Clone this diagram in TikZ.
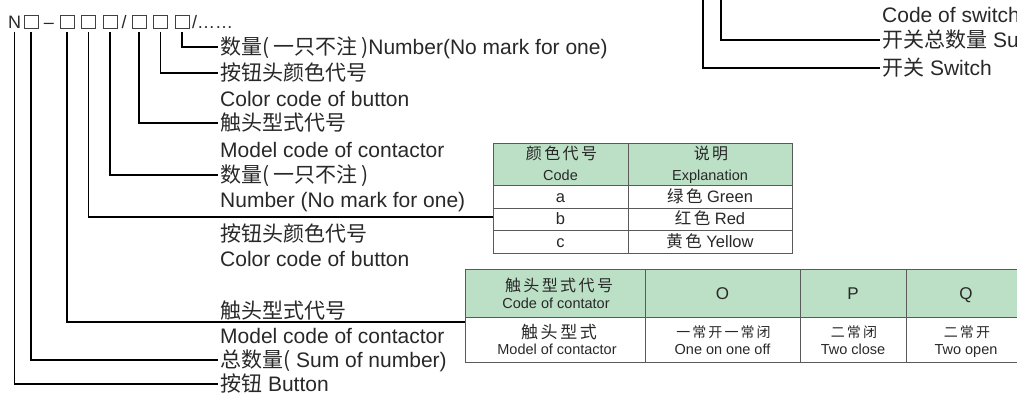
\documentclass[tikz,border=0pt]{standalone}
\usepackage{fontspec}
\setmainfont{Liberation Sans}
\newfontfamily\cjk{Noto Sans CJK SC}
\newfontfamily\cjkls{Noto Sans CJK SC}[LetterSpace=15]
\definecolor{hdr}{RGB}{188,224,198}
\definecolor{txt}{RGB}{40,40,40}
\definecolor{grid}{RGB}{90,90,90}
\begin{document}
\begin{tikzpicture}[x=1pt,y=-1pt,
  lead/.style={line width=1.4pt, black},
  tx/.style={inner sep=0pt, text=txt, text depth=0pt},
  lbl/.style={tx, anchor=west, text height=15.1pt, font=\fontsize{21}{25}\selectfont},
  hd/.style={tx, text height=13pt, font=\fontsize{18}{22}\selectfont},
  codebox/.style={draw=black!75, line width=0.8pt, minimum width=14pt, minimum height=13pt, inner sep=0pt},
  cell/.style={draw=grid, line width=0.9pt},
  tcj/.style={tx, text height=11.5pt, font=\fontsize{16}{19}\selectfont\cjkls},
  tcjb/.style={tx, text height=12.2pt, font=\fontsize{17}{20}\selectfont\cjkls},
  tla/.style={tx, text height=10.4pt, font=\fontsize{14.5}{17}\selectfont},
  tbody/.style={tx, text height=11.9pt, font=\fontsize{16.5}{19}\selectfont},
  tbig/.style={tx, text height=12.2pt, font=\fontsize{17}{20}\selectfont},
  tsm/.style={tx, text height=10pt, font=\fontsize{14}{17}\selectfont\cjkls},
]
\useasboundingbox (0,0) rectangle (1017,394);
\clip (0,0) rectangle (1017,394);

% ---- code header ----
\node[hd, anchor=west] (N) at (8,21.5) {N};
\node[codebox] (b1) at (31,21.5) {};
\node[hd] (dash) at (49,21.5) {–};
\node[codebox] (b2) at (67,21.5) {};
\node[codebox] (b3) at (88.5,21.5) {};
\node[codebox] (b4) at (110,21.5) {};
\node[hd] (s1) at (124,21.5) {/};
\node[codebox] (b5) at (139,21.5) {};
\node[codebox] (b6) at (160.5,21.5) {};
\node[codebox] (b7) at (182,21.5) {};
\node[hd, anchor=west] (tail) at (192,21.5) {/……};

% ---- labels ----
\node[lbl] (l7) at (220,47) {{\cjk 数量(\kern4pt 一只不注\kern4pt)}Number(No mark for one)};
\node[lbl] (l6) at (220,73) {{\cjk 按钮头颜色代号}};
\node[lbl] (l6e) at (220,99) {Color code of button};
\node[lbl] (l5) at (220,123) {{\cjk 触头型式代号}};
\node[lbl] (l5e) at (220,150) {Model code of contactor};
\node[lbl] (l4) at (220,175) {{\cjk 数量(\kern4pt 一只不注\kern4pt)}};
\node[lbl] (l4e) at (220,200) {Number (No mark for one)};
\node[lbl] (l3) at (220,234) {{\cjk 按钮头颜色代号}};
\node[lbl] (l3e) at (220,259) {Color code of button};
\node[lbl] (l2) at (220,311) {{\cjk 触头型式代号}};
\node[lbl] (l2e) at (220,336) {Model code of contactor};
\node[lbl] (l1) at (220,360) {{\cjk 总数量(} Sum of number)};
\node[lbl] (l0) at (220,384) {{\cjk 按钮} Button};

% ---- switch part (top right) ----
\coordinate (sw1) at (703,0);
\coordinate (sw2) at (721,0);
\node[lbl] (r3) at (882,15) {Code of switch};
\node[lbl] (r2) at (882,40) {{\cjk 开关总数量} Su};
\node[lbl] (r1) at (882,68) {{\cjk 开关} Switch};

% ---- table 1: colour codes ----
\fill[hdr] (493,143) rectangle (792,185);
\draw[cell] (493,143) rectangle (792,253);
\draw[cell] (493,185) -- (792,185) (493,208) -- (792,208) (493,230) -- (792,230) (628,143) -- (628,253);
\coordinate (t1w) at (493,217);
\node[tcj] (h11) at (561.5,154) {颜色代号};
\node[tla] (h12) at (560.5,175) {Code};
\node[tcj] (h21) at (711,154) {说明};
\node[tla] (h22) at (710,175) {Explanation};
\node[tbody] (ca) at (560.5,196.5) {a};
\node[tbody] (cb) at (560.5,219) {b};
\node[tbody] (cc) at (560.5,241.5) {c};
\node[tbody] (ea) at (710,196.5) {{\cjkls 绿色} Green};
\node[tbody] (eb) at (710,219) {{\cjkls 红色} Red};
\node[tbody] (ec) at (710,241.5) {{\cjkls 黄色} Yellow};

% ---- table 2: contactor codes ----
\fill[hdr] (465,269) rectangle (1030,317);
\draw[cell] (465,269) rectangle (1030,362);
\draw[cell] (465,317) -- (1030,317) (645,269) -- (645,362) (800,269) -- (800,362) (906,269) -- (906,362);
\coordinate (t2w) at (465,322);
\node[tcj] (k11) at (559,286) {触头型式代号};
\node[tla] (k12) at (556,303) {Code of contator};
\node[tbig] (kO) at (722.5,293) {O};
\node[tbig] (kP) at (853,293) {P};
\node[tbig] (kQ) at (966,293) {Q};
\node[tcjb] (m11) at (559,332) {触头型式};
\node[tla] (m12) at (557,349) {Model of contactor};
\node[tsm] (mO1) at (723.5,332) {一常开一常闭};
\node[tla] (mO2) at (722.5,349) {One on one off};
\node[tsm] (mP1) at (854,332) {二常闭};
\node[tla] (mP2) at (853,349) {Two close};
\node[tsm] (mQ1) at (967,332) {二常开};
\node[tla] (mQ2) at (966,349) {Two open};

% ---- leader lines ----
\draw[lead] ([yshift=-4pt]b7.south) |- ([xshift=-2pt]l7.west);
\draw[lead] ([yshift=-4pt]b6.south) |- ([xshift=-2pt]l6.west);
\draw[lead] ([yshift=-4pt]b5.south) |- ([xshift=-2pt]l5.west);
\draw[lead] ([yshift=-4pt]b4.south) |- ([xshift=-2pt]l4.west);
\draw[lead] ([yshift=-4pt]b3.south) |- (t1w);
\draw[lead] ([yshift=-4pt]b2.south) |- (t2w);
\draw[lead] ([yshift=-4pt]b1.south) |- ([xshift=-2pt]l1.west);
\draw[lead] ([yshift=-4pt]N.south) |- ([xshift=-2pt]l0.west);
\draw[lead] (sw2) |- ([xshift=-2pt]r2.west);
\draw[lead] (sw1) |- ([xshift=-2pt]r1.west);
\end{tikzpicture}
\end{document}
